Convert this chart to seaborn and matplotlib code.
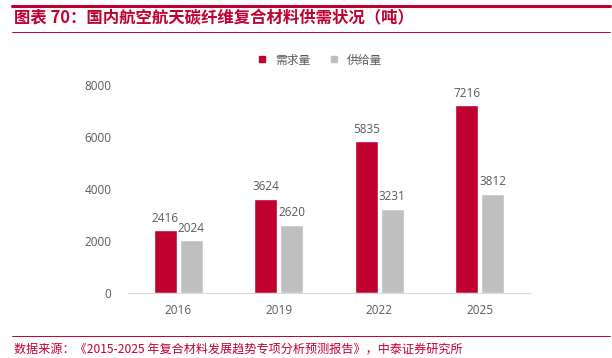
import pandas as pd
import numpy as np
import matplotlib.pyplot as plt
import seaborn as sns
from matplotlib.lines import Line2D

sns.set_style("white")
plt.rcParams["font.family"] = ["Noto Sans CJK SC", "DejaVu Sans"]

# ── data ────────────────────────────────────────
years = ["2016", "2019", "2022", "2025"]
demand = [2416, 3624, 5835, 7216]
supply = [2024, 2620, 3231, 3812]
series_names = ["需求量", "供给量"]

RED = "#C0002F"
GRAY = "#BFBFBF"
TXT = "#595959"

df = pd.DataFrame({
    "year": years * 2,
    "value": demand + supply,
    "series": [series_names[0]] * len(years) + [series_names[1]] * len(years),
})

fig = plt.figure(figsize=(6.12, 3.58), dpi=100)
ax = fig.add_axes([128 / 612, 65 / 358, 402 / 612, 208 / 358])

sns.barplot(data=df, x="year", y="value", hue="series", ax=ax,
            palette=[RED, GRAY], width=0.52, gap=0.11, legend=False,
            saturation=1)

for cont in ax.containers:
    ax.bar_label(cont, fmt="%d", padding=4, fontsize=8.5, color=TXT,
                 family="Open Sans")

ax.set_ylim(0, 8000)
ax.set_yticks(range(0, 8001, 2000))
ax.set_xlabel("")
ax.set_ylabel("")
ax.tick_params(axis="both", length=0, labelsize=8.5, colors=TXT)
ax.tick_params(axis="y", pad=12)
ax.tick_params(axis="x", pad=8)
for lab in ax.get_xticklabels() + ax.get_yticklabels():
    lab.set_family("Open Sans")
sns.despine(ax=ax, left=True)
ax.spines["bottom"].set_color("#D9D9D9")
ax.spines["bottom"].set_linewidth(0.8)

# legend
handles = [Line2D([], [], marker="s", linestyle="", markersize=5,
                  color=c) for c in (RED, GRAY)]
fig.legend(handles, series_names, loc="center", bbox_to_anchor=(316 / 612, 1 - 60 / 358),
           ncol=2, frameon=False, fontsize=8.5, handletextpad=0.1,
           columnspacing=1.0, labelcolor=TXT)

# header / footer decoration
fig.add_artist(Line2D([12 / 612, 610 / 612], [1 - 6 / 358] * 2, color=RED, lw=2.2))
fig.add_artist(Line2D([12 / 612, 610 / 612], [1 - 32 / 358] * 2, color=RED, lw=0.7))
fig.add_artist(Line2D([12 / 612, 610 / 612], [1 - 336 / 358] * 2, color=RED, lw=0.7))
fig.text(14 / 612, 1 - 18 / 358, "图表 70：国内航空航天碳纤维复合材料供需状况（吨）",
         color=RED, fontsize=11.8, fontweight="bold", va="center", ha="left")
fig.text(14 / 612, 1 - 349 / 358,
         "数据来源：《2015-2025 年复合材料发展趋势专项分析预测报告》，中泰证券研究所",
         color=RED, fontsize=8.7, va="center", ha="left")

fig.savefig("out.png", dpi=100)
